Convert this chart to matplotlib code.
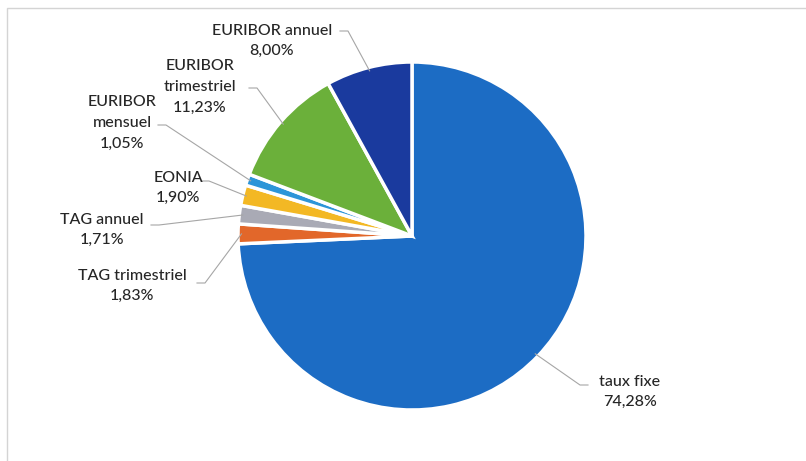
import matplotlib.pyplot as plt
from matplotlib.patches import Rectangle
from matplotlib.lines import Line2D
import numpy as np

# repartition of the debt by rate type
labels = ['taux fixe', 'TAG trimestriel', 'TAG annuel', 'EONIA',
          'EURIBOR mensuel', 'EURIBOR trimestriel', 'EURIBOR annuel']
shares = [74.28, 1.83, 1.71, 1.90, 1.05, 11.23, 8.00]
label_text = ['taux fixe', 'TAG trimestriel', 'TAG annuel', 'EONIA',
              'EURIBOR\nmensuel', 'EURIBOR\ntrimestriel', 'EURIBOR annuel']
colors = ['#1c6cc4', '#e2672a', '#a9aab5', '#f3b824',
          '#2d95d8', '#6bb03a', '#1a3a9e']

# label centres and leader line starts, in pixels from the top-left corner
text_pos = [(630, 392), (132, 286), (102, 230), (178, 188),
            (122, 123), (200, 87), (272, 41)]
lead_start = [(588, 385), (197, 283), (151, 225), (201, 181),
              (158, 125), (249, 88), (340, 31)]

W, H = 806, 461
fig = plt.figure(figsize=(W / 100, H / 100), dpi=100)
fig.patch.set_facecolor('white')

# chart frame
fig.patches.append(Rectangle((7 / W, -0.1), 1.2, (H - 8) / H + 0.1,
                             transform=fig.transFigure, fill=False,
                             edgecolor='#d4d4d4', linewidth=1.0))

cx, cy, r = 412, 236, 174
ax = fig.add_axes([(cx - r) / W, (H - cy - r) / H, 2 * r / W, 2 * r / H])

wedges, _ = ax.pie(shares, colors=colors, startangle=90, counterclock=False,
                   radius=1.0,
                   wedgeprops=dict(edgecolor='white', linewidth=2.5))
ax.set_xlim(-1, 1)
ax.set_ylim(-1, 1)
ax.set_aspect('equal')
ax.axis('off')

txt_color = '#262626'
for w, lab, val, (tx, ty), (lx, ly) in zip(wedges, label_text, shares,
                                           text_pos, lead_start):
    ang = np.deg2rad((w.theta1 + w.theta2) / 2)
    px, py = ax.transData.transform((np.cos(ang) * 0.98, np.sin(ang) * 0.98))
    fig.text(tx / W, 1 - ty / H, lab + '\n' + f'{val:.2f}%'.replace('.', ','),
             ha='center', va='center', fontsize=11.5, family='Lato',
             weight='medium', color=txt_color, linespacing=1.6)
    # short horizontal elbow then straight to the wedge
    step = 8 if px > lx else -8
    xs = [lx / W, (lx + step) / W, px / W]
    ys = [1 - ly / H, 1 - ly / H, py / H]
    fig.lines.append(Line2D(xs, ys, transform=fig.transFigure,
                            color='#a6a6a6', linewidth=0.8))

fig.savefig('out.png', dpi=100, facecolor='white')
